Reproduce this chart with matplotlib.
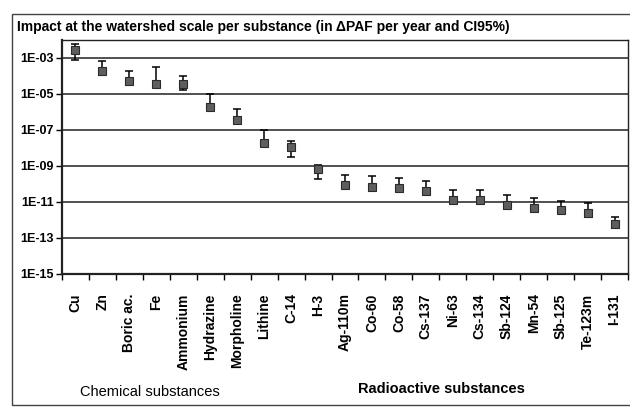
import matplotlib.pyplot as plt
import numpy as np
from matplotlib.patches import Rectangle

substances = ["Cu", "Zn", "Boric ac.", "Fe", "Ammonium", "Hydrazine", "Morpholine",
              "Lithine", "C-14", "H-3", "Ag-110m", "Co-60", "Co-58", "Cs-137", "Ni-63",
              "Cs-134", "Sb-124", "Mn-54", "Sb-125", "Te-123m", "I-131"]
impact = [2.9e-3, 2.0e-4, 5.0e-5, 3.7e-5, 3.4e-5, 2.0e-6, 3.7e-7, 1.8e-8, 1.07e-8,
          7.0e-10, 8.5e-11, 6.8e-11, 6.0e-11, 4.0e-11, 1.25e-11, 1.3e-11, 6.4e-12,
          4.5e-12, 3.6e-12, 2.3e-12, 5.8e-13]
ci_high = [6.3e-3, 6.5e-4, 2.0e-4, 3.2e-4, 9.5e-5, 1.0e-5, 1.5e-6, 1.0e-7, 2.5e-8,
           1.2e-9, 3.0e-10, 2.7e-10, 2.2e-10, 1.5e-10, 4.8e-11, 4.5e-11, 2.4e-11,
           1.7e-11, 1.2e-11, 8.8e-12, 1.5e-12]
ci_low = [7.4e-4, 1.1e-4, 3.3e-5, 2.8e-5, 1.6e-5, 2.0e-6, 2.7e-7, 1.8e-8, 3.2e-9,
          1.8e-10, 8.5e-11, 6.8e-11, 6.0e-11, 4.0e-11, 1.25e-11, 1.3e-11, 6.4e-12,
          4.5e-12, 3.6e-12, 1.4e-12, 3.4e-13]
ytick_vals = [1e-15, 1e-13, 1e-11, 1e-9, 1e-7, 1e-5, 1e-3]
ytick_labels = ["1E-15", "1E-13", "1E-11", "1E-09", "1E-07", "1E-05", "1E-03"]

plt.rcParams['font.family'] = ['Liberation Sans', 'DejaVu Sans']

impact = np.array(impact)
x = np.arange(len(substances))
yerr = np.vstack([impact - np.array(ci_low), np.array(ci_high) - impact])

fig = plt.figure(figsize=(6.3, 4.08), dpi=100)
ax = fig.add_axes([62/630, 1-274/408, (628-62)/630, (274-40)/408])

ax.set_yscale('log')
ax.set_ylim(1e-15, 1e-2)
ax.set_xlim(-0.5, len(substances) - 0.5)

for v in ytick_vals[1:]:
    ax.axhline(v, color='#222222', linewidth=1.1, zorder=1)

ax.errorbar(x, impact, yerr=yerr, fmt='none', ecolor='black', elinewidth=1.1,
            capsize=3, capthick=1.1, zorder=3)
ax.plot(x, impact, 's', color='#5e5e5e', markeredgecolor='#2a2a2a',
        markersize=5.5, markeredgewidth=0.8, zorder=4)

ax.set_yticks(ytick_vals)
ax.set_yticklabels(ytick_labels, fontsize=9, fontweight='bold')
ax.yaxis.set_minor_locator(plt.NullLocator())
ax.tick_params(axis='y', length=4, width=1, pad=2, direction='out')

ax.set_xticks(x)
ax.set_xticklabels(substances, rotation=90, fontsize=10, fontweight='bold',
                   va='top', ha='center')
ax.set_xticks(np.arange(len(substances) + 1) - 0.5, minor=True)
ax.tick_params(axis='x', which='major', length=0, pad=14)
ax.tick_params(axis='x', which='minor', length=4, width=1, direction='out')

ax.spines['left'].set_linewidth(1.6)
ax.spines['bottom'].set_linewidth(1.6)
ax.spines['top'].set_linewidth(1.0)
ax.spines['right'].set_linewidth(1.0)
for s in ax.spines.values():
    s.set_color('#222222')

fig.text(17/630, 1-27/408, "Impact at the watershed scale per substance (in \u0394PAF per year and CI95%)",
         fontsize=10, fontweight='bold', va='center', ha='left')
fig.text(150/630, 1-392/408, "Chemical substances", fontsize=10.5, ha='center', va='center')
fig.text(441/630, 1-389/408, "Radioactive substances", fontsize=10.5, fontweight='bold',
         ha='center', va='center')

fig.patches.append(Rectangle((12/630, 1-405/408), 1.0, (405-14)/408, transform=fig.transFigure,
                             fill=False, edgecolor='#444444', linewidth=1.0, clip_on=False))

plt.savefig("out.png")
